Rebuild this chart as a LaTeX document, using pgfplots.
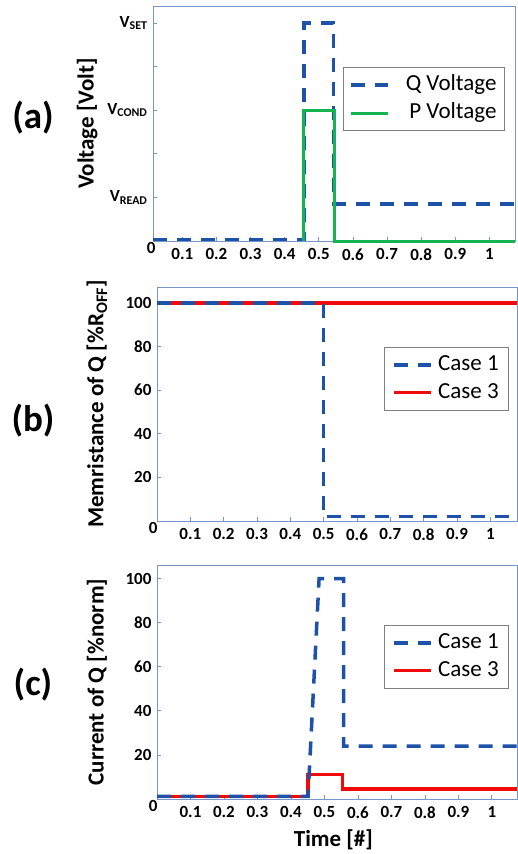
\documentclass[border=0pt]{standalone}
\usepackage{fontspec}
\setmainfont{Carlito}
\usepackage{pgfplots}
\pgfplotsset{compat=1.18}

\definecolor{qblue}{RGB}{30,82,168}
\definecolor{pgreen}{RGB}{20,180,80}
\definecolor{cred}{RGB}{240,10,10}
\definecolor{frame}{RGB}{120,150,200}
\definecolor{lgray}{RGB}{128,128,128}

\pgfplotsset{
 panel/.style={
  scale only axis, clip=false,
  axis line style={frame,line width=1pt},
  tick style={frame,line width=0.8pt},
  tick align=inside, major tick length=4pt,
  xtick pos=bottom, ytick pos=left,
  xtick={0.1,0.2,0.3,0.4,0.5,0.6,0.7,0.8,0.9,1},
  /pgf/number format/assume math mode=true,
  tick label style={font=\fontsize{17}{19}\selectfont\bfseries},
  xticklabel style={yshift=-4pt},
  yticklabel style={xshift=-2pt},
  extra y ticks={0},
  label style={font=\fontsize{23}{26}\selectfont\bfseries},
  legend style={anchor=north east,draw=lgray,line width=0.8pt,fill=white,
   font=\fontsize{23}{26}\selectfont,inner ysep=5pt,row sep=3pt,
   nodes={inner sep=2pt,text height=16pt,text depth=5pt}},
  legend cell align=left,
  legend image code/.code={\draw[##1] (0pt,0pt) -- (37pt,0pt);},
 },
 qline/.style={qblue,line width=3.5pt,dash pattern=on 14pt off 10pt},
 rline/.style={cred,line width=3.2pt},
 gline/.style={pgreen,line width=3pt},
}

\begin{document}
\begin{tikzpicture}
\path[use as bounding box] (0pt,0pt) rectangle (518pt,-854pt);

% (a) voltages
\begin{axis}[panel,
 at={(153pt,-241pt)},anchor=south west,width=362pt,height=235pt,
 xmin=0.014,xmax=1.075,ymin=0,ymax=5.39,
 ytick={1,2,3,4,5},
 yticklabels={V\textsubscript{READ},{},V\textsubscript{COND},{},V\textsubscript{SET}},
 extra y tick style={yticklabel style={yshift=-7pt,xshift=8pt}},
 ylabel={Voltage [Volt]},
 ylabel style={at={(axis description cs:-0.182,0.5)},anchor=center},
 legend style={at={(0.972,0.74)},inner xsep=6pt,column sep=14pt},
 legend cell align=right]
\addplot[qline] coordinates {(0.014,0.04) (0.456,0.04) (0.456,5) (0.543,5) (0.543,0.85) (1.075,0.85)};
\addlegendentry{Q Voltage}
\addplot[gline] coordinates {(0.456,0) (0.456,3) (0.545,3) (0.545,0) (1.075,0)};
\addlegendentry{P Voltage}
\end{axis}

% (b) memristance
\begin{axis}[panel,
 at={(157pt,-521pt)},anchor=south west,width=360pt,height=234pt,
 xmin=0,xmax=1.08,ymin=0,ymax=107.3,
 ytick={20,40,60,80,100},
 extra y tick style={yticklabel style={yshift=-7pt,xshift=6pt}},
 ylabel={Memristance of Q [\%R\textsubscript{OFF}]},
 ylabel style={at={(axis description cs:-0.167,0.5)},anchor=center},
 legend style={at={(0.978,0.744)},inner xsep=8pt,column sep=3pt}]
\addplot[rline,forget plot] coordinates {(0,100) (1.08,100)};
\addplot[qline] coordinates {(0,100) (0.5,100) (0.5,2) (1.08,2)};
\addlegendentry{Case 1}
\addlegendimage{rline}
\addlegendentry{Case 3}
\end{axis}

% (c) current
\begin{axis}[panel,
 at={(157pt,-799pt)},anchor=south west,width=360pt,height=234pt,
 xmin=0,xmax=1.075,ymin=0,ymax=106.2,
 ytick={20,40,60,80,100},
 extra y tick style={yticklabel style={yshift=-7pt,xshift=6pt}},
 ylabel={Current of Q [\%norm]},
 ylabel style={at={(axis description cs:-0.167,0.5)},anchor=center},
 xlabel={Time [\#]},
 xlabel style={at={(axis description cs:0.49,0)},anchor=center,yshift=-41pt},
 legend style={at={(0.978,0.744)},inner xsep=8pt,column sep=3pt}]
\addplot[rline,forget plot] coordinates {(0,1.2) (0.451,1.2) (0.451,11) (0.555,11) (0.555,4.5) (1.075,4.5)};
\addplot[qline] coordinates {(0,1.2) (0.451,1.2) (0.484,100) (0.557,100) (0.557,24) (1.075,24)};
\addlegendentry{Case 1}
\addlegendimage{rline}
\addlegendentry{Case 3}
\end{axis}

\node[font=\fontsize{37}{40}\selectfont\bfseries] at (33pt,-118pt) {(a)};
\node[font=\fontsize{37}{40}\selectfont\bfseries] at (33pt,-421pt) {(b)};
\node[font=\fontsize{37}{40}\selectfont\bfseries] at (33pt,-685pt) {(c)};
\end{tikzpicture}
\end{document}
